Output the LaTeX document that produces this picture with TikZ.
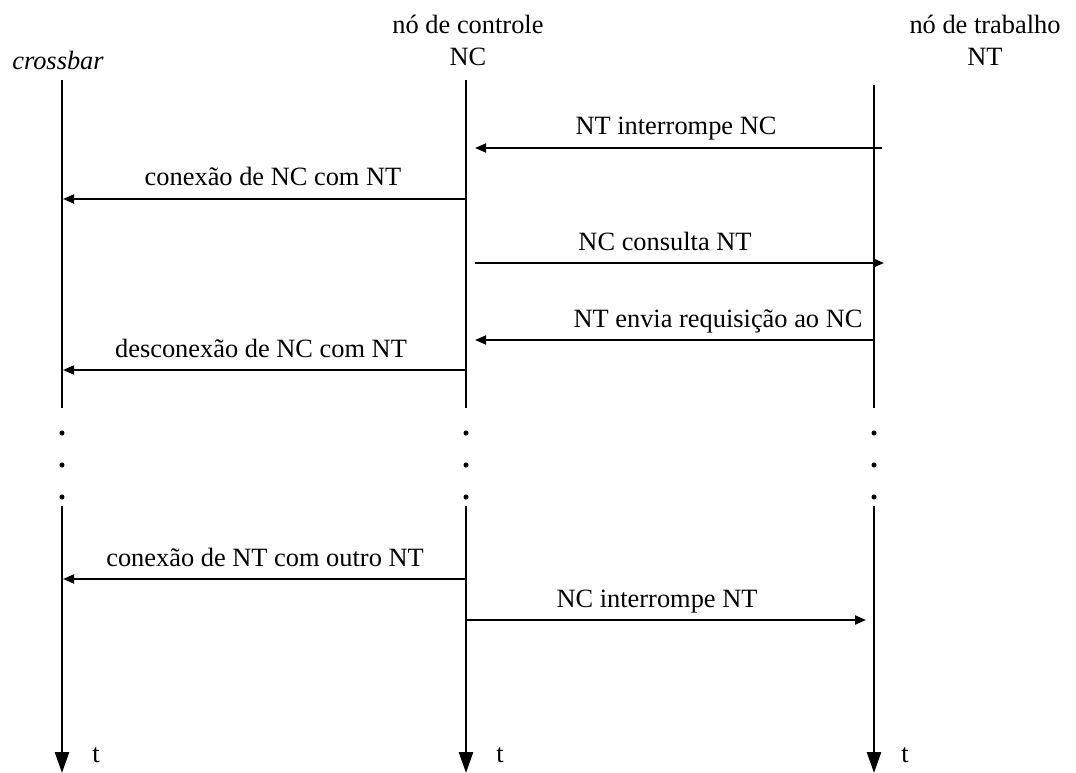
\documentclass[tikz,border=0pt]{standalone}
\usepackage{fontspec}
\setmainfont{Liberation Serif}
\usetikzlibrary{arrows.meta}
\begin{document}
\begin{tikzpicture}[x=1pt,y=-1pt,
  font=\fontsize{26.4}{30}\selectfont,
  life/.style={line width=2.6pt},
  lifeend/.style={line width=2.6pt,-{Triangle[length=21pt,width=14pt]}},
  msg/.style={line width=1.8pt,-{Triangle[length=11pt,width=9pt]}},
  lbl/.style={anchor=base,inner sep=0pt},
  hdr/.style={anchor=base,inner sep=0pt},
  dotmark/.style={circle,fill,inner sep=0pt,minimum size=5pt}]
\useasboundingbox (0,0) rectangle (1076,773);
% headers
\node[hdr] (hC1) at (468,34) {nó de controle};
\node[hdr] (hC2) at (468,66) {NC};
\node[hdr] (hX) at (58,70) {\itshape crossbar};
\node[hdr] (hT1) at (985,34) {nó de trabalho};
\node[hdr] (hT2) at (985,66) {NT};
% lifeline coordinates
\foreach \n/\x/\t in {L/62/80,M/466/80,R/874/85}{
  \coordinate (\n top) at (\x,\t);
  \coordinate (\n b1) at (\x,408);
  \coordinate (\n b2) at (\x,506);
  \coordinate (\n end) at (\x,773);
  \draw[life] (\n top) -- (\n b1);
  \draw[lifeend] (\n b2) -- (\n end);
  \node[dotmark] (\n d1) at (\x,433) {};
  \node[dotmark] (\n d2) at (\x,465) {};
  \node[dotmark] (\n d3) at (\x,497) {};
}
\node[hdr] (tL) at (96,762) {t};
\node[hdr] (tM) at (500,762) {t};
\node[hdr] (tR) at (905,762) {t};
% messages
\coordinate (m1s) at (882,148); \coordinate (m1e) at (475,148);
\coordinate (m2s) at (466,199); \coordinate (m2e) at (63,199);
\coordinate (m3s) at (475,263); \coordinate (m3e) at (884,263);
\coordinate (m4s) at (874,340); \coordinate (m4e) at (475,340);
\coordinate (m5s) at (466,370); \coordinate (m5e) at (63,370);
\coordinate (m6s) at (466,579); \coordinate (m6e) at (63,579);
\coordinate (m7s) at (466,620); \coordinate (m7e) at (866,620);
\draw[msg] (m1s) -- (m1e);
\draw[msg] (m2s) -- (m2e);
\draw[msg] (m3s) -- (m3e);
\draw[msg] (m4s) -- (m4e);
\draw[msg] (m5s) -- (m5e);
\draw[msg] (m6s) -- (m6e);
\draw[msg] (m7s) -- (m7e);
\node[lbl] (l1) at (676,135) {NT interrompe NC};
\node[lbl] (l2) at (273,185) {conexão de NC com NT};
\node[lbl] (l3) at (665,250) {NC consulta NT};
\node[lbl] (l4) at (718,327) {NT envia requisição ao NC};
\node[lbl] (l5) at (261,357) {desconexão de NC com NT};
\node[lbl] (l6) at (265,566) {conexão de NT com outro NT};
\node[lbl] (l7) at (657,607) {NC interrompe NT};
\end{tikzpicture}
\end{document}
